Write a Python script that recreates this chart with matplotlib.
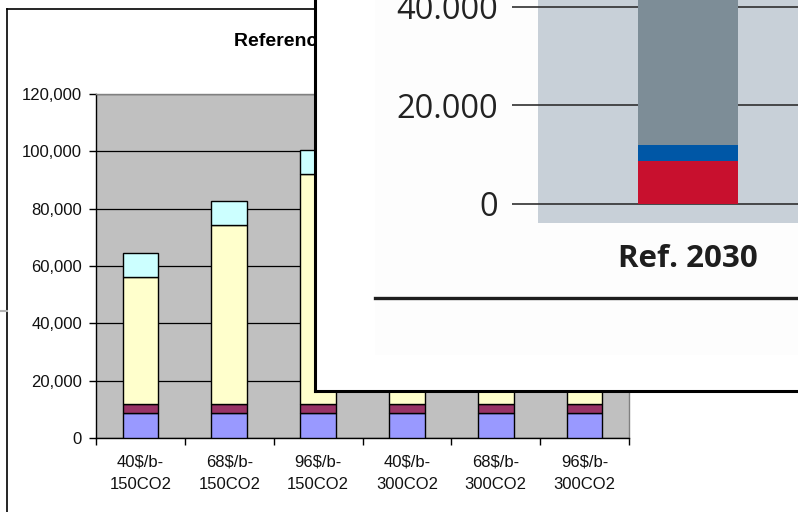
import matplotlib
matplotlib.use("Agg")
import matplotlib.pyplot as plt
from matplotlib.lines import Line2D
from matplotlib.patches import Rectangle
import numpy as np

# ---- main chart data ----
categories = ["40$/b-\n150CO2", "68$/b-\n150CO2", "96$/b-\n150CO2",
              "40$/b-\n300CO2", "68$/b-\n300CO2", "96$/b-\n300CO2"]
seg_blue = [8700, 8700, 8700, 8700, 8700, 8700]
seg_purple = [3200, 3200, 3200, 3200, 3200, 3200]
seg_yellow = [44400, 62500, 80300, 40000, 56000, 73000]
seg_cyan = [8100, 8300, 8200, 8000, 8200, 8300]
y_ticks = [0, 20000, 40000, 60000, 80000, 100000, 120000]

# ---- inset chart data ----
inset_category = ["Ref. 2030"]
inset_red = [8700]
inset_blue = [3240]
inset_gray = [45000]
inset_ticks = [0, 20000, 40000]

W, H = 798, 512
fig = plt.figure(figsize=(W / 100, H / 100), dpi=100)
fig.patch.set_facecolor("white")

def fx(px):
    return px / W

def fy(py):
    return 1 - py / H

# outer chart frame
fig.add_artist(Line2D([fx(7), fx(7)], [fy(9), fy(520)], color="black", lw=1.2))
fig.add_artist(Line2D([fx(7), fx(800)], [fy(9), fy(9)], color="black", lw=1.2))
fig.add_artist(Line2D([fx(0), fx(7)], [fy(311), fy(311)], color="#b4b4b4", lw=1.5))

fig.text(fx(234), fy(41), "Reference Scenario", ha="left", va="center",
         fontsize=14, fontweight="bold", family="Liberation Sans")

ax = fig.add_axes([fx(96), fy(438), fx(629) - fx(96), fy(94) - fy(438)])
ax.set_facecolor("#c0c0c0")
x = np.arange(len(categories))
bw = 0.4
bottom = np.zeros(len(categories))
for vals, col in [(seg_blue, "#9999ff"), (seg_purple, "#993366"),
                  (seg_yellow, "#ffffcc"), (seg_cyan, "#ccffff")]:
    ax.bar(x, vals, bw, bottom=bottom, color=col, edgecolor="black",
           linewidth=1.0, zorder=3)
    bottom += np.array(vals)

ax.set_xlim(-0.5, len(categories) - 0.5)
ax.set_ylim(0, 120000)
ax.set_yticks(y_ticks)
ax.set_yticklabels([f"{v:,}" for v in y_ticks])
ax.yaxis.grid(True, color="black", lw=0.9, zorder=1)
ax.set_axisbelow(True)
ax.set_xticks(x)
ax.set_xticklabels(categories, linespacing=1.65)
ax.set_xticks(np.arange(-0.5, len(categories)), minor=True)
ax.tick_params(axis="x", which="major", length=0, pad=12)
ax.tick_params(axis="x", which="minor", length=5, width=1, color="black")
ax.tick_params(axis="y", length=5, width=1, pad=5)
for lab in ax.get_xticklabels() + ax.get_yticklabels():
    lab.set_family("Liberation Sans")
    lab.set_fontsize(12)
    lab.set_color("#111111")
for s in ["top", "right"]:
    ax.spines[s].set_color("#808080")
    ax.spines[s].set_linewidth(1)
for s in ["left", "bottom"]:
    ax.spines[s].set_color("black")
    ax.spines[s].set_linewidth(1)

# ---- inset panel ----
ov = fig.add_axes([fx(315), fy(391), 1.0, 1.0], zorder=5)
ov.set_facecolor("white")
ov.set_xticks([])
ov.set_yticks([])
for s in ["top", "right"]:
    ov.spines[s].set_visible(False)
for s in ["left", "bottom"]:
    ov.spines[s].set_linewidth(2.2)
    ov.spines[s].set_color("black")

fig.add_artist(Rectangle((fx(375), fy(355)), fx(800) - fx(375), fy(0) - fy(355),
                         transform=fig.transFigure, facecolor="#fdfdfd",
                         edgecolor="none", zorder=6))
fig.add_artist(Line2D([fx(375), fx(800)], [fy(298), fy(298)], color="#1e1e1e",
                      lw=2.4, zorder=7))

ia = fig.add_axes([fx(538), fy(223), fx(798) - fx(538), fy(0) - fy(223)], zorder=8)
ia.set_facecolor("#c8d0d8")
px_per_20k = 98.7
ia.set_ylim(-19 / px_per_20k * 20000, 204 / px_per_20k * 20000)
ia.set_xlim(-1.5, 1.1)
ib = np.zeros(1)
for vals, col in [(inset_red, "#c8102e"), (inset_blue, "#0057a6"),
                  (inset_gray, "#7d8d97")]:
    ia.bar([0], vals, 1.0, bottom=ib, color=col, edgecolor="none", zorder=3)
    ib += np.array(vals)
ia.set_yticks(inset_ticks)
ia.set_yticklabels([f"{v:,}".replace(",", ".") for v in inset_ticks])
ia.yaxis.grid(True, color="#303030", lw=1.2, zorder=1)
ia.set_axisbelow(True)
ia.tick_params(axis="y", length=19, width=1.2, color="#303030", pad=10,
               labelsize=23.5, labelcolor="#222222")
ia.set_xticks([0])
ia.set_xticklabels(inset_category)
ia.tick_params(axis="x", length=0, pad=15, labelsize=22.5, labelcolor="#1e1e1e")
for lab in ia.get_yticklabels():
    lab.set_family("Open Sans")
for lab in ia.get_xticklabels():
    lab.set_family("Open Sans")
    lab.set_fontweight("bold")
for s in ia.spines.values():
    s.set_visible(False)

fig.savefig("out.png", dpi=100)
